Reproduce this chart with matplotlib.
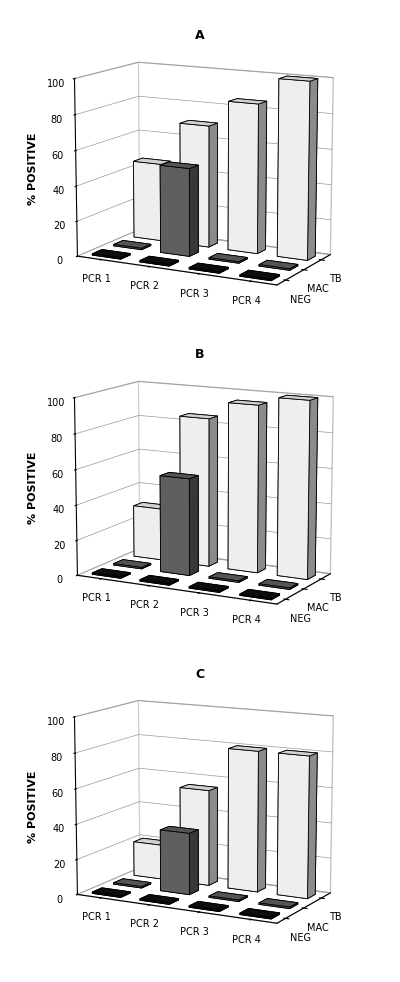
import numpy as np
import matplotlib
matplotlib.use('Agg')
import matplotlib.pyplot as plt

pcr = ['PCR 1', 'PCR 2', 'PCR 3', 'PCR 4']
groups = ['NEG', 'MAC', 'TB']
panels = ['A', 'B', 'C']

# % positive per panel, rows = NEG, MAC, TB
neg_a = [0, 0, 0, 0]
mac_a = [0, 50, 0, 0]
tb_a = [45, 70, 85, 100]

neg_b = [0, 0, 0, 0]
mac_b = [0, 55, 0, 0]
tb_b = [30, 85, 95, 100]

neg_c = [0, 0, 0, 0]
mac_c = [0, 35, 0, 0]
tb_c = [20, 55, 80, 80]

data = [[neg_a, mac_a, tb_a], [neg_b, mac_b, tb_b], [neg_c, mac_c, tb_c]]
colors = ['#111111', '#666666', '#ffffff']

fig = plt.figure(figsize=(4, 9.82), dpi=100)
tops = [0.67, 0.345, 0.02]
for k in range(3):
    ax = fig.add_axes([0.0, tops[k], 1.0, 0.31], projection='3d')
    for j in range(3):
        for i in range(4):
            h = max(data[k][j][i], 0.8)
            ax.bar3d(i + 0.2, j + 0.25, 0, 0.6, 0.45, h, color=colors[j],
                     edgecolor='black', linewidth=0.6, shade=True,
                     lightsource=matplotlib.colors.LightSource(azdeg=200, altdeg=30))
    ax.set_xlim(0, 4)
    ax.set_ylim(0, 3)
    ax.set_zlim(0, 100)
    ax.set_xticks([0.5, 1.5, 2.5, 3.5])
    ax.set_xticklabels(pcr, fontsize=7)
    ax.set_yticks([0.45, 1.45, 2.45])
    ax.set_yticklabels(groups, fontsize=7)
    ax.set_zticks([0, 20, 40, 60, 80, 100])
    ax.set_zticklabels(['0', '20', '40', '60', '80', '100'], fontsize=7)
    ax.zaxis.set_ticks_position('lower')
    ax.zaxis.set_label_position('lower')
    ax.set_zlabel('% POSITIVE', fontsize=8, fontweight='bold', labelpad=-2)
    ax.zaxis.set_rotate_label(False)
    ax.zaxis.label.set_rotation(90)
    ax.view_init(elev=12, azim=-62)
    ax.set_box_aspect((1.6, 0.9, 1.3))
    for a in (ax.xaxis, ax.yaxis, ax.zaxis):
        a.pane.set_facecolor('white')
        a.pane.set_edgecolor('#888888')
        a._axinfo['grid']['color'] = '#999999'
        a._axinfo['grid']['linewidth'] = 0.5
    ax.xaxis._axinfo['grid']['linewidth'] = 0
    ax.yaxis._axinfo['grid']['linewidth'] = 0
    ax.tick_params(pad=0)
    fig.text(0.5, tops[k] + 0.29, panels[k], ha='center', fontsize=9, fontweight='bold')

fig.savefig('out.png', dpi=100)
